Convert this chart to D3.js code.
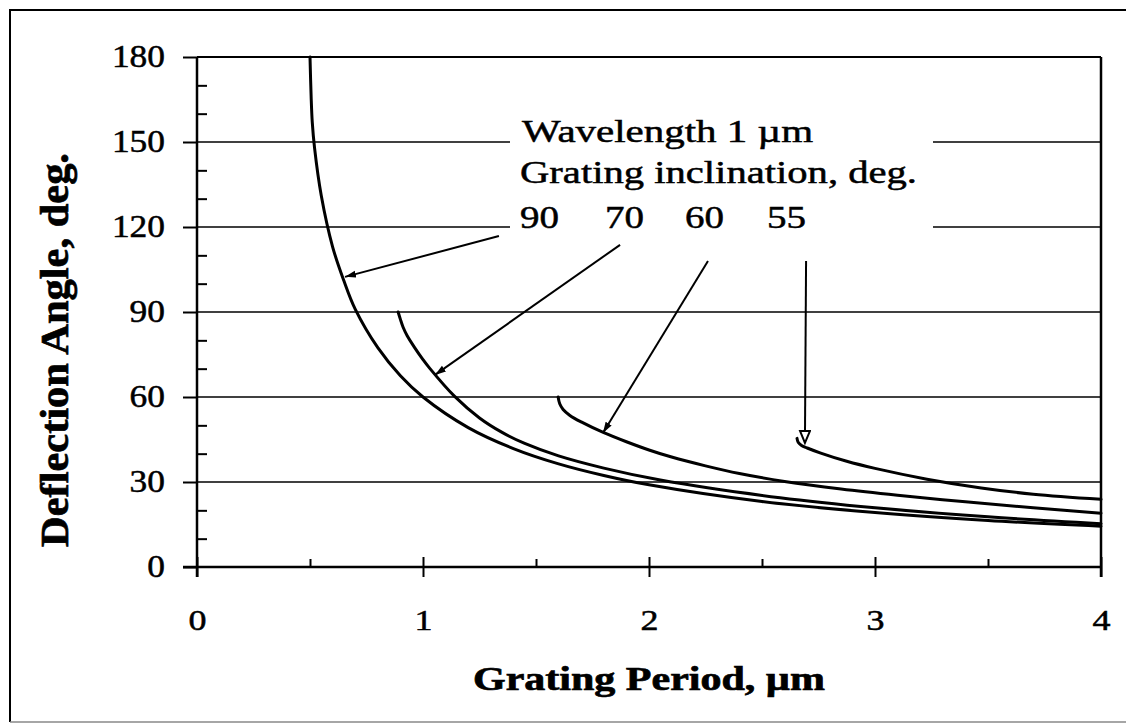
<!DOCTYPE html>
<html><head><meta charset="utf-8">
<script src="https://cdn.jsdelivr.net/npm/d3@7/dist/d3.min.js"></script>
<style>
body{margin:0;background:#fff}
svg{display:block}
text{font-family:"Liberation Serif","Times New Roman",serif;fill:#000;stroke:#000;stroke-width:0.5px}
</style>
</head><body>
<svg id="c" width="1126" height="724"></svg>
<script>
// ---------- data ----------
const period90 = [0.5, 0.505, 0.51, 0.52, 0.55, 0.6, 0.65, 0.7, 0.8, 0.9, 1.0, 1.2, 1.4, 1.6, 1.8, 2.0, 2.5, 3.0, 3.5, 4.0];
const angle90  = [180, 166, 157, 148, 131, 113, 101, 91, 77.4, 67.5, 60, 49.2, 41.8, 36.4, 32.3, 29.0, 23.1, 19.2, 16.4, 14.4];

const period70 = [0.89, 0.9, 0.912, 0.93, 0.96, 1.0, 1.03, 1.14, 1.25, 1.35, 1.45, 1.6, 1.8, 2.05, 2.58, 3.0, 3.5, 4.0];
const angle70  = [90, 87.4, 84.6, 81.6, 77.8, 73.2, 70.1, 60.2, 52.6, 47.5, 43.6, 39.2, 34.9, 30.7, 24.45, 20.9, 17.7, 15.3];

const period60 = [1.598, 1.605, 1.62, 1.65, 1.7, 1.8, 1.9, 2.0, 2.1, 2.25, 2.4, 2.6, 2.85, 3.1, 3.4, 3.7, 4.0];
const angle60  = [60, 57.6, 55.6, 53.5, 51.2, 47.4, 44.2, 41.3, 38.8, 35.7, 33.0, 30.2, 27.5, 25.3, 23.0, 20.9, 19.0];

const period55 = [2.655, 2.66, 2.675, 2.7, 2.76, 2.875, 3.0, 3.23, 3.47, 3.7, 4.0];
const angle55  = [45.4, 44.0, 42.9, 42.0, 40.2, 37.3, 34.8, 31.0, 27.9, 25.7, 23.9];

const xMajorTicks = [0, 1, 2, 3, 4];
const xMinorTicks = [0.5, 1.5, 2.5, 3.5];
const yMajorTicks = [0, 30, 60, 90, 120, 150, 180];
const yMinorTicks = [10, 20, 40, 50, 70, 80, 100, 110, 130, 140, 160, 170];
const gridValues  = [30, 60, 90, 120, 150, 180];

const inclinationLabels = ["90", "70", "60", "55"];
const labelPeriod  = [1.429, 1.805, 2.159, 2.522];
const arrowFromX = [1.336, 1.872, 2.261, 2.695];
const arrowFromY = [116.8, 113.7, 108.0, 108.0];
const arrowToX   = [0.655, 1.053, 1.796, 2.690];
const arrowToY   = [102.4, 67.8, 47.3, 43.8];

const xTitle = "Grating Period, \u00B5m";
const yTitle = "Deflection Angle, deg.";
const noteLine1 = "Wavelength 1 \u00B5m";
const noteLine2 = "Grating inclination, deg.";

// ---------- drawing ----------
const W = 1126, H = 724;
const svg = d3.select('#c');
const x = d3.scaleLinear().domain([0, 4]).range([197, 1101]);
const y = d3.scaleLinear().domain([0, 180]).range([567, 57]);

svg.append('rect').attr('width', W).attr('height', H).attr('fill', '#fff');

// outer frame
svg.append('path').attr('d', 'M10,722 V10 H1126')
  .attr('fill', 'none').attr('stroke', '#000').attr('stroke-width', 2);
svg.append('line').attr('x1', 10).attr('x2', 1126).attr('y1', 722).attr('y2', 722)
  .attr('stroke', '#888').attr('stroke-width', 1.5);

// gridlines
svg.append('g').selectAll('line').data(gridValues).join('line')
  .attr('x1', x(0)).attr('x2', x(4))
  .attr('y1', d => y(d)).attr('y2', d => y(d))
  .attr('stroke', '#000').attr('stroke-width', d => d === 180 ? 2 : 1.5);

// white box behind the annotation
svg.append('rect').attr('x', 510).attr('y', 108).attr('width', 423).attr('height', 128).attr('fill', '#fff');

// y axis
const yAx = svg.append('g').attr('transform', `translate(${x(0)},0)`)
  .call(d3.axisLeft(y).tickValues(yMajorTicks).tickSize(14).tickSizeOuter(0).tickPadding(18).tickFormat(d3.format('d')));
yAx.select('.domain').remove();
yAx.selectAll('line').attr('stroke', '#000').attr('stroke-width', 2);
yAx.selectAll('text').attr('font-size', 31).attr('fill', '#000')
  .attr('font-family', '"Liberation Serif", serif')
  .attr('textLength', d => String(d).length * 17.7).attr('lengthAdjust', 'spacingAndGlyphs');

const yMin = svg.append('g').attr('transform', `translate(${x(0)},0)`)
  .call(d3.axisRight(y).tickValues(yMinorTicks).tickSize(10).tickSizeOuter(0).tickFormat(''));
yMin.select('.domain').remove();
yMin.selectAll('line').attr('stroke', '#000').attr('stroke-width', 2);

// x axis
const xAx = svg.append('g').attr('transform', `translate(0,${y(0)})`)
  .call(d3.axisBottom(x).tickValues(xMajorTicks).tickSize(10).tickSizeOuter(0).tickPadding(32).tickFormat(d3.format('d')));
xAx.select('.domain').remove();
xAx.selectAll('line').attr('stroke', '#000').attr('stroke-width', 2);
xAx.selectAll('text').attr('font-size', 30).attr('fill', '#000')
  .attr('font-family', '"Liberation Serif", serif')
  .attr('textLength', 18).attr('lengthAdjust', 'spacingAndGlyphs');

const xUp = svg.append('g').attr('transform', `translate(0,${y(0)})`)
  .call(d3.axisTop(x).tickValues(xMajorTicks).tickSize(10).tickSizeOuter(0).tickFormat(''));
xUp.select('.domain').remove();
xUp.selectAll('line').attr('stroke', '#000').attr('stroke-width', 2);

const xMin = svg.append('g').attr('transform', `translate(0,${y(0)})`)
  .call(d3.axisTop(x).tickValues(xMinorTicks).tickSize(8).tickSizeOuter(0).tickFormat(''));
xMin.select('.domain').remove();
xMin.selectAll('line').attr('stroke', '#000').attr('stroke-width', 2);

// axis lines
svg.append('line').attr('x1', x(0)).attr('x2', x(0)).attr('y1', y(180)).attr('y2', y(0) + 10)
  .attr('stroke', '#000').attr('stroke-width', 2.5);
svg.append('line').attr('x1', x(0) - 14).attr('x2', x(4)).attr('y1', y(0)).attr('y2', y(0))
  .attr('stroke', '#000').attr('stroke-width', 2.5);
svg.append('line').attr('x1', x(4)).attr('x2', x(4)).attr('y1', y(180)).attr('y2', y(0) + 10)
  .attr('stroke', '#000').attr('stroke-width', 2.5);

// curves
const series = [
  [period90, angle90],
  [period70, angle70],
  [period60, angle60],
  [period55, angle55]
];
const line = d3.line().x(d => x(d[0])).y(d => y(d[1])).curve(d3.curveCatmullRom.alpha(0.5));
svg.append('g').selectAll('path').data(series).join('path')
  .attr('d', s => line(s[0].map((p, i) => [p, s[1][i]])))
  .attr('fill', 'none').attr('stroke', '#000').attr('stroke-width', 3)
  .attr('stroke-linejoin', 'round').attr('stroke-linecap', 'round');

// arrow markers
const defs = svg.append('defs');
defs.append('marker').attr('id', 'ah').attr('markerUnits', 'userSpaceOnUse')
  .attr('markerWidth', 14).attr('markerHeight', 10).attr('refX', 11).attr('refY', 3.5)
  .attr('orient', 'auto')
  .append('path').attr('d', 'M0,0 L11,3.5 L0,7 Z').attr('fill', '#000');
defs.append('marker').attr('id', 'ah2').attr('markerUnits', 'userSpaceOnUse')
  .attr('markerWidth', 16).attr('markerHeight', 14).attr('refX', 13).attr('refY', 6)
  .attr('orient', 'auto')
  .append('path').attr('d', 'M1,1 L13,6 L1,11 Z').attr('fill', '#fff').attr('stroke', '#000').attr('stroke-width', 2);

svg.append('g').selectAll('line').data(inclinationLabels).join('line')
  .attr('x1', (d, i) => x(arrowFromX[i])).attr('y1', (d, i) => y(arrowFromY[i]))
  .attr('x2', (d, i) => x(arrowToX[i])).attr('y2', (d, i) => y(arrowToY[i]))
  .attr('stroke', '#000').attr('stroke-width', 2)
  .attr('marker-end', (d, i) => i === 3 ? 'url(#ah2)' : 'url(#ah)');

// annotation text
svg.append('text').attr('x', 522).attr('y', 142).attr('font-size', 32)
  .attr('textLength', 291).attr('lengthAdjust', 'spacingAndGlyphs').text(noteLine1);
svg.append('text').attr('x', 520).attr('y', 183).attr('font-size', 32)
  .attr('textLength', 397).attr('lengthAdjust', 'spacingAndGlyphs').text(noteLine2);
svg.append('g').selectAll('text').data(inclinationLabels).join('text')
  .attr('x', (d, i) => x(labelPeriod[i])).attr('y', y(120) + 1)
  .attr('font-size', 32).attr('textLength', 39).attr('lengthAdjust', 'spacingAndGlyphs')
  .text(d => d);

// axis titles
svg.append('text').attr('x', 649).attr('y', 690).attr('text-anchor', 'middle')
  .attr('font-size', 33).attr('font-weight', 'bold').style('stroke-width', '0.7px')
  .attr('textLength', 352).attr('lengthAdjust', 'spacingAndGlyphs').text(xTitle);
svg.append('text').attr('transform', 'translate(68,350) rotate(-90)').attr('text-anchor', 'middle')
  .attr('font-size', 40).attr('font-weight', 'bold').style('stroke-width', '0.7px')
  .attr('textLength', 394).attr('lengthAdjust', 'spacingAndGlyphs').text(yTitle);
</script>
</body></html>
